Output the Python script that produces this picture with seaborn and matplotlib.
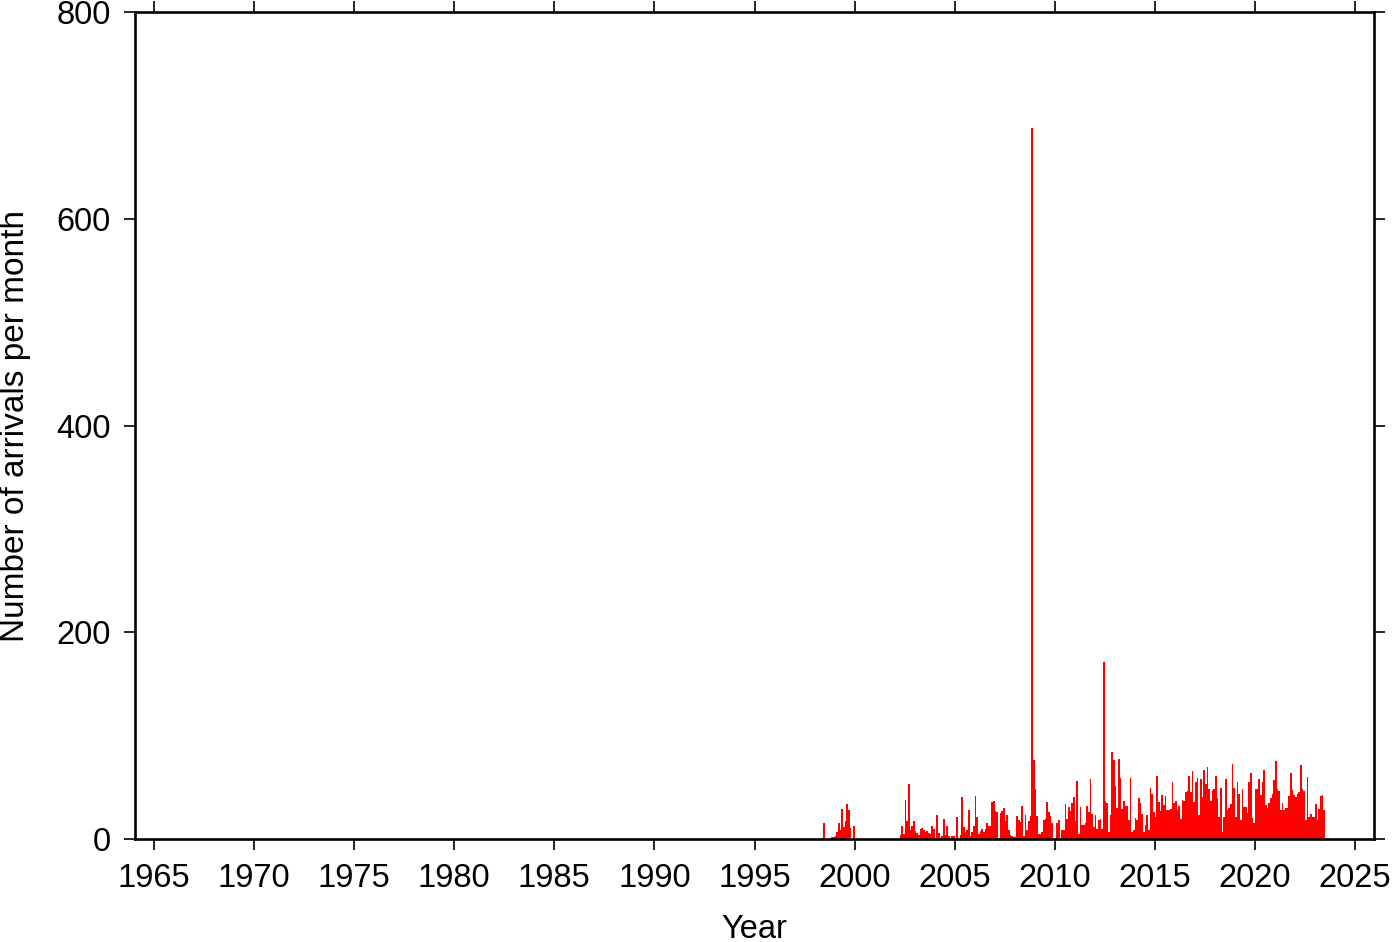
import numpy as np
import pandas as pd
import seaborn as sns
import matplotlib
matplotlib.use("Agg")
import matplotlib.pyplot as plt

# monthly arrival counts (Jan..Dec)
m1998 = [0, 0, 0, 1, 1, 15, 0, 0, 0, 1, 2, 2]
m1999 = [3, 7, 15, 9, 29, 12, 17, 34, 28, 11, 0, 13]
m2000 = [0] * 12
m2001 = [0] * 12
m2002 = [0, 0, 0, 4, 13, 5, 38, 17, 53, 9, 13, 17]
m2003 = [8, 6, 4, 10, 11, 9, 7, 8, 6, 5, 13, 10]
m2004 = [1, 23, 6, 1, 3, 19, 4, 13, 3, 1, 3, 3]
m2005 = [1, 21, 0, 4, 41, 12, 7, 9, 28, 3, 7, 13]
m2006 = [42, 21, 5, 8, 10, 7, 10, 15, 13, 13, 36, 37]
m2007 = [27, 26, 1, 25, 27, 30, 17, 23, 9, 4, 3, 2]
m2008 = [2, 22, 18, 16, 32, 3, 23, 9, 17, 22, 688, 76]
m2009 = [48, 22, 5, 5, 7, 18, 19, 36, 26, 22, 15, 0]
m2010 = [0, 15, 18, 1, 9, 9, 34, 19, 31, 27, 35, 41]
m2011 = [17, 56, 5, 31, 14, 14, 15, 32, 26, 58, 24, 12]
m2012 = [23, 10, 18, 19, 10, 171, 37, 35, 7, 23, 84, 76]
m2013 = [51, 30, 77, 59, 29, 37, 32, 32, 18, 59, 7, 9]
m2014 = [20, 18, 40, 35, 24, 7, 14, 23, 9, 49, 44, 26]
m2015 = [21, 61, 36, 27, 43, 33, 42, 28, 28, 29, 55, 35]
m2016 = [37, 28, 32, 19, 38, 37, 45, 46, 61, 45, 66, 36]
m2017 = [55, 59, 23, 58, 41, 67, 53, 70, 48, 37, 47, 48]
m2018 = [61, 40, 21, 49, 7, 21, 58, 28, 30, 34, 73, 49]
m2019 = [21, 55, 44, 18, 48, 31, 31, 25, 55, 64, 20, 15]
m2020 = [48, 48, 58, 43, 55, 67, 33, 30, 35, 40, 44, 57]
m2021 = [75, 48, 46, 28, 35, 28, 30, 30, 42, 64, 47, 43]
m2022 = [41, 44, 45, 72, 48, 46, 18, 60, 21, 24, 21, 21]
m2023 = [34, 18, 29, 42, 43, 28]

start_year = 1998
year_ticks = list(range(1965, 2030, 5))
count_ticks = [0, 200, 400, 600, 800]

counts = (m1998 + m1999 + m2000 + m2001 + m2002 + m2003 + m2004 + m2005
          + m2006 + m2007 + m2008 + m2009 + m2010 + m2011 + m2012 + m2013
          + m2014 + m2015 + m2016 + m2017 + m2018 + m2019 + m2020 + m2021
          + m2022 + m2023)
n = len(counts)
df = pd.DataFrame({
    "year": start_year + (np.arange(n) + 0.5) / 12.0,
    "count": counts,
})

sns.set_style("ticks")
plt.rcParams["font.family"] = ["Liberation Sans", "DejaVu Sans"]
for key in ["text.color", "axes.labelcolor", "xtick.color", "ytick.color",
            "axes.edgecolor"]:
    plt.rcParams[key] = "black"

fig = plt.figure(figsize=(14, 9.42), dpi=100)
ax = fig.add_axes([135 / 1400, 1 - 839 / 942, (1374 - 135) / 1400, (839 - 12) / 942])

sns.histplot(data=df, x="year", weights="count", binwidth=1 / 12,
             binrange=(start_year, start_year + n / 12), color="#ff0000",
             alpha=1, linewidth=0, ax=ax)

ax.set_xlim(1964.05, 2025.95)
ax.set_ylim(0, 800)
ax.set_xticks(year_ticks)
ax.set_yticks(count_ticks)
ax.set_xlabel("Year", fontsize=23.5, labelpad=14)
ax.set_ylabel("Number of arrivals per month", fontsize=24, labelpad=18)

for s in ax.spines.values():
    s.set_visible(True)
    s.set_linewidth(1.9)
ax.tick_params(axis="both", which="major", direction="out", length=8, width=1.2,
               labelsize=23.5, top=True, right=True, pad=9.5)

fig.savefig("out.png", dpi=100)
